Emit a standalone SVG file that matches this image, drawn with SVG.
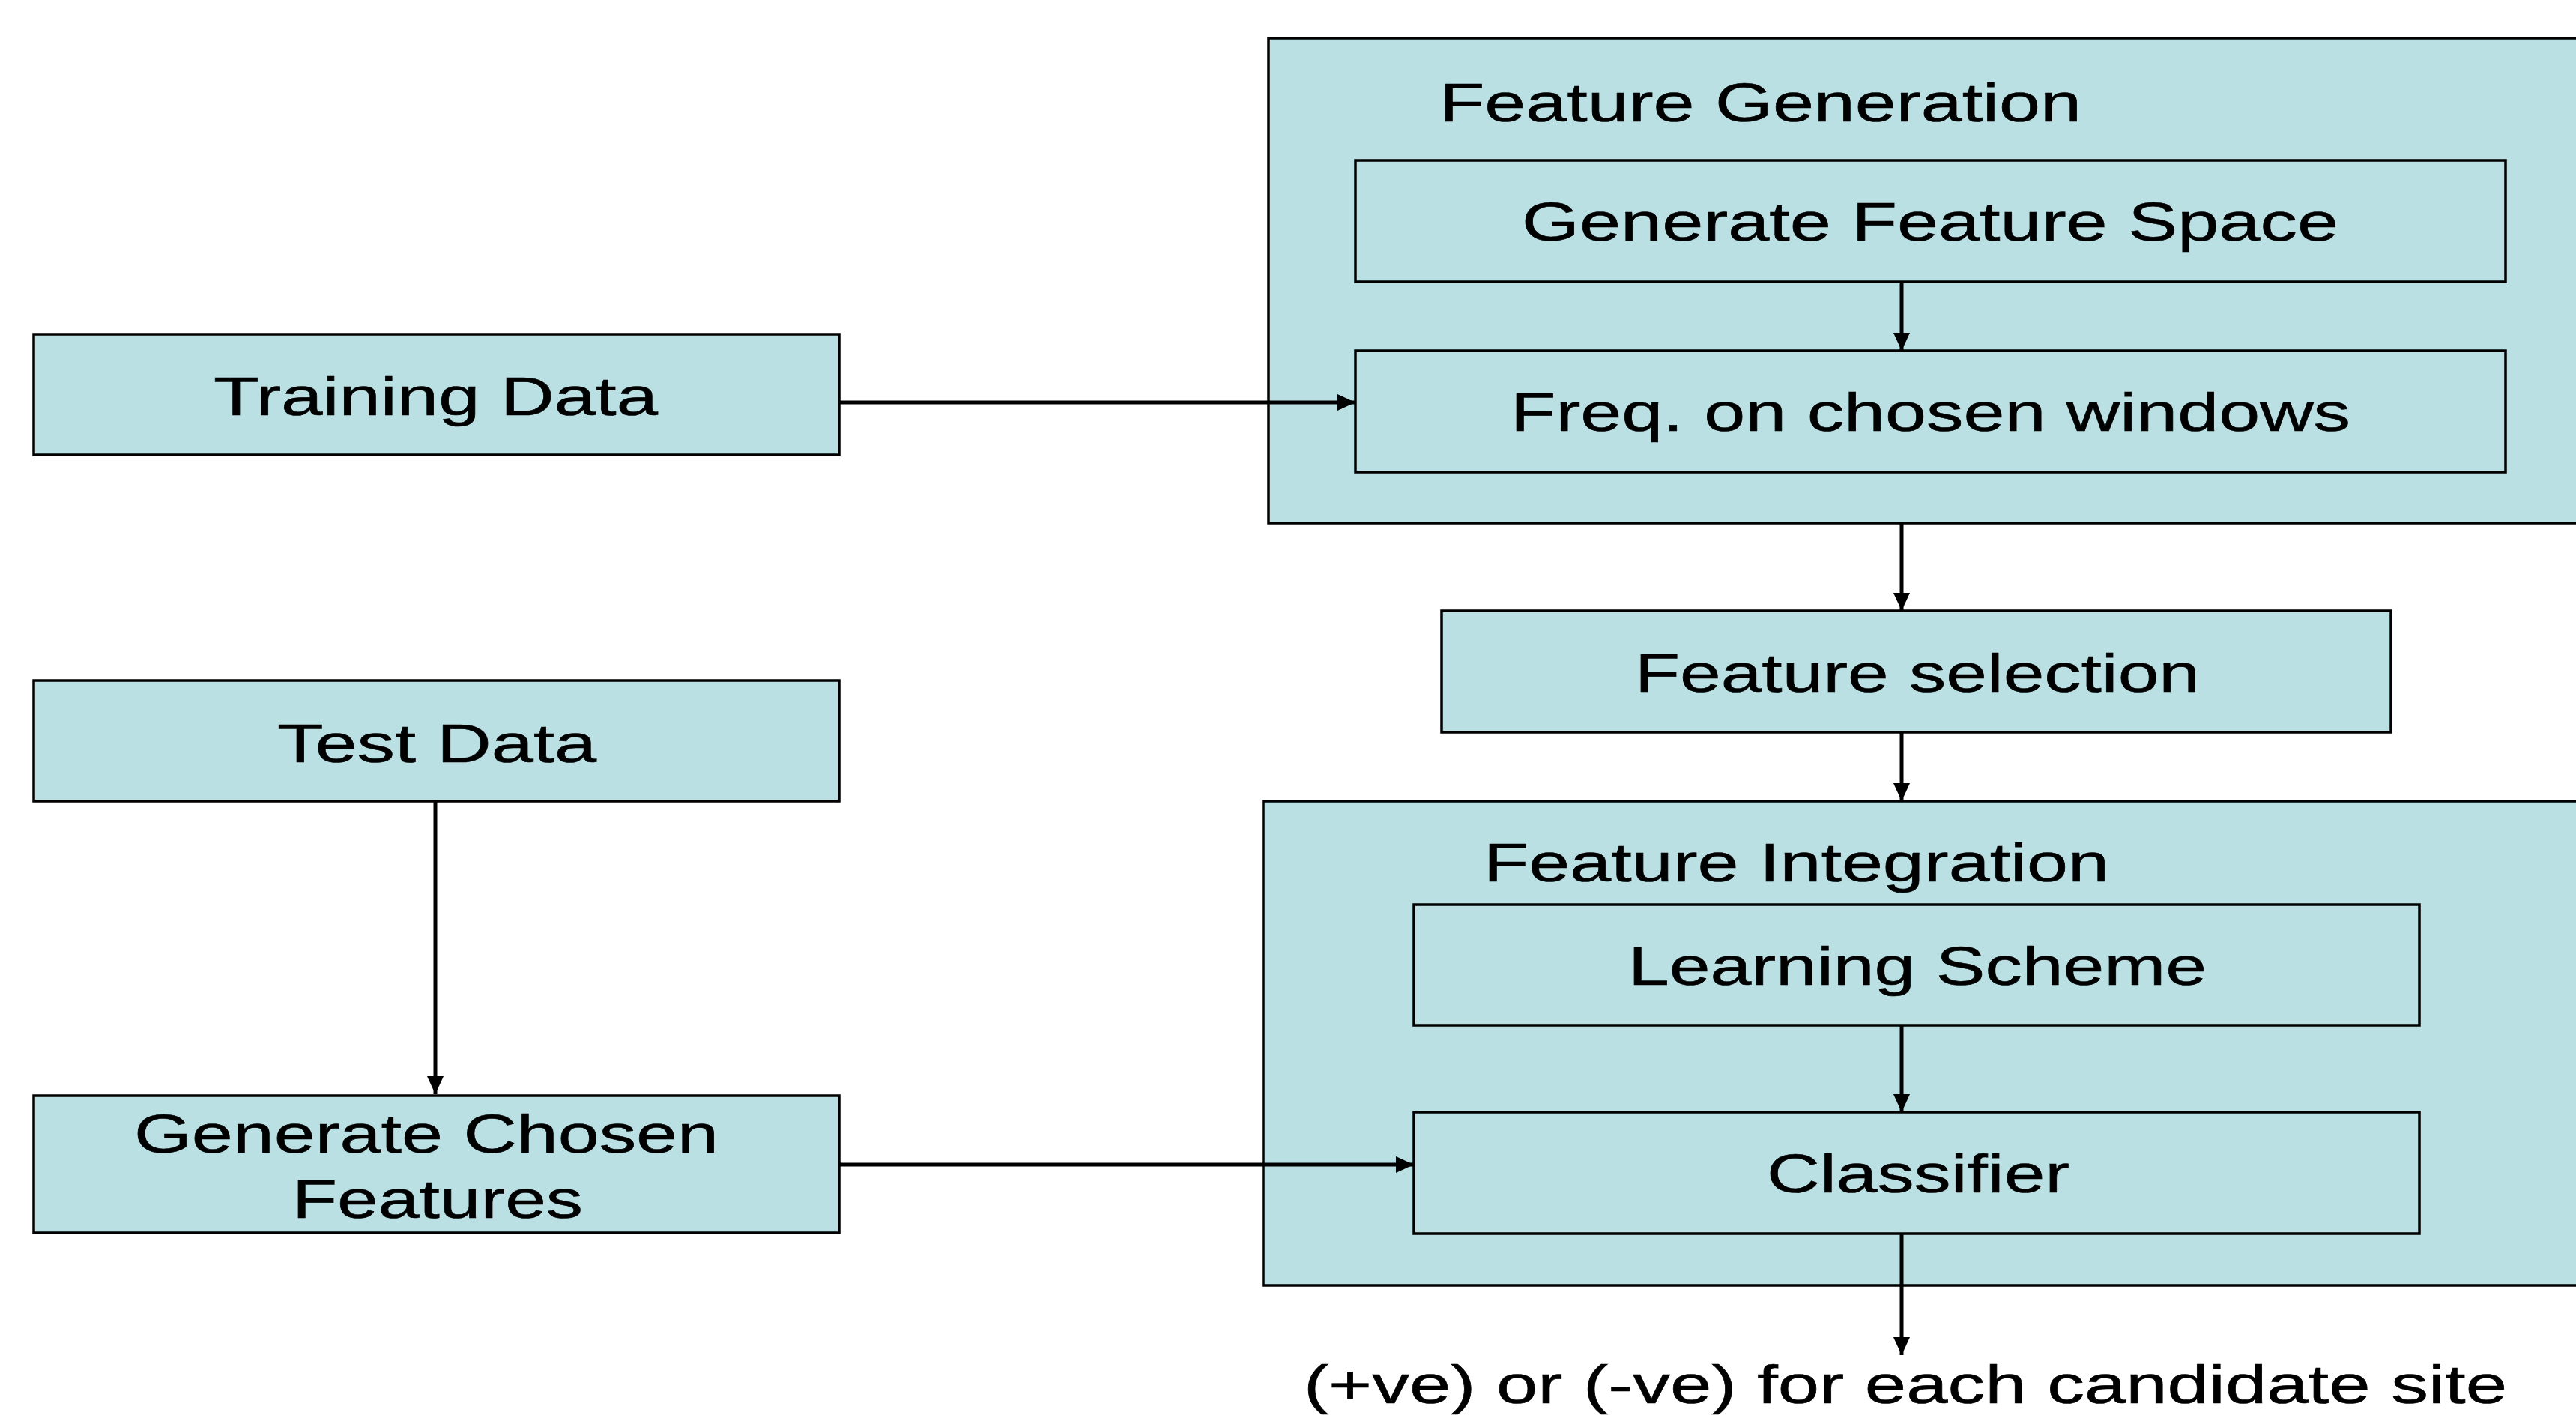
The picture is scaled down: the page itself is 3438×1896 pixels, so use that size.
<svg xmlns="http://www.w3.org/2000/svg" width="3438" height="1896" viewBox="0 0 3438 1896">
<style>
.box{fill:#BBE0E3;stroke:#000;stroke-width:3.5}
.t{font-family:"Liberation Sans",Arial,sans-serif;font-size:73px;fill:#000;stroke:#000;stroke-width:0.6}
.c{stroke:#000;stroke-width:5;fill:none;marker-end:url(#ah)}
</style>
<defs>
<marker id="ah" viewBox="0 0 24 22" markerWidth="24" markerHeight="22" refX="24" refY="11" orient="auto" markerUnits="userSpaceOnUse">
<path d="M0,0 L24,11 L0,22 z" fill="#000"/>
</marker>
</defs>
<rect width="3438" height="1896" fill="#fff"/>
<g id="feature-generation">
<rect class="box" x="1693" y="51" width="1760" height="647"/>
<text class="t" x="1921" y="162" textLength="857" lengthAdjust="spacingAndGlyphs">Feature Generation</text>
</g>
<g id="generate-feature-space">
<rect class="box" x="1809" y="214" width="1535" height="162"/>
<text class="t" x="2031" y="321" textLength="1090" lengthAdjust="spacingAndGlyphs">Generate Feature Space</text>
</g>
<g id="freq-windows">
<rect class="box" x="1809" y="468" width="1535" height="162"/>
<text class="t" x="2016" y="575" textLength="1121" lengthAdjust="spacingAndGlyphs">Freq. on chosen windows</text>
</g>
<g id="training-data">
<rect class="box" x="45" y="446" width="1075" height="161"/>
<text class="t" x="285" y="554" textLength="593" lengthAdjust="spacingAndGlyphs">Training Data</text>
</g>
<g id="feature-selection">
<rect class="box" x="1924" y="815" width="1267" height="162"/>
<text class="t" x="2182" y="923" textLength="754" lengthAdjust="spacingAndGlyphs">Feature selection</text>
</g>
<g id="test-data">
<rect class="box" x="45" y="908" width="1075" height="161"/>
<text class="t" x="370" y="1017" textLength="426" lengthAdjust="spacingAndGlyphs">Test Data</text>
</g>
<g id="feature-integration">
<rect class="box" x="1686" y="1069" width="1767" height="646"/>
<text class="t" x="1980" y="1176" textLength="835" lengthAdjust="spacingAndGlyphs">Feature Integration</text>
</g>
<g id="learning-scheme">
<rect class="box" x="1887" y="1207" width="1342" height="161"/>
<text class="t" x="2173" y="1314" textLength="772" lengthAdjust="spacingAndGlyphs">Learning Scheme</text>
</g>
<g id="classifier">
<rect class="box" x="1887" y="1484" width="1342" height="162"/>
<text class="t" x="2358" y="1591" textLength="404" lengthAdjust="spacingAndGlyphs">Classifier</text>
</g>
<g id="generate-chosen-features">
<rect class="box" x="45" y="1462" width="1075" height="183"/>
<text class="t" x="179" y="1538" textLength="780" lengthAdjust="spacingAndGlyphs">Generate Chosen</text>
<text class="t" x="390" y="1625" textLength="388" lengthAdjust="spacingAndGlyphs">Features</text>
</g>
<g id="output">
<text class="t" x="1740" y="1872" textLength="1606" lengthAdjust="spacingAndGlyphs">(+ve) or (-ve) for each candidate site</text>
</g>
<g id="connectors">
<line class="c" x1="1120" y1="537" x2="1809" y2="537"/>
<line class="c" x1="2538" y1="376" x2="2538" y2="468"/>
<line class="c" x1="2538" y1="698" x2="2538" y2="815"/>
<line class="c" x1="2538" y1="977" x2="2538" y2="1069"/>
<line class="c" x1="2538" y1="1368" x2="2538" y2="1484"/>
<line class="c" x1="581" y1="1069" x2="581" y2="1460"/>
<line class="c" x1="1120" y1="1554" x2="1887" y2="1554"/>
<line class="c" x1="2538" y1="1646" x2="2538" y2="1808"/>
</g>
</svg>
